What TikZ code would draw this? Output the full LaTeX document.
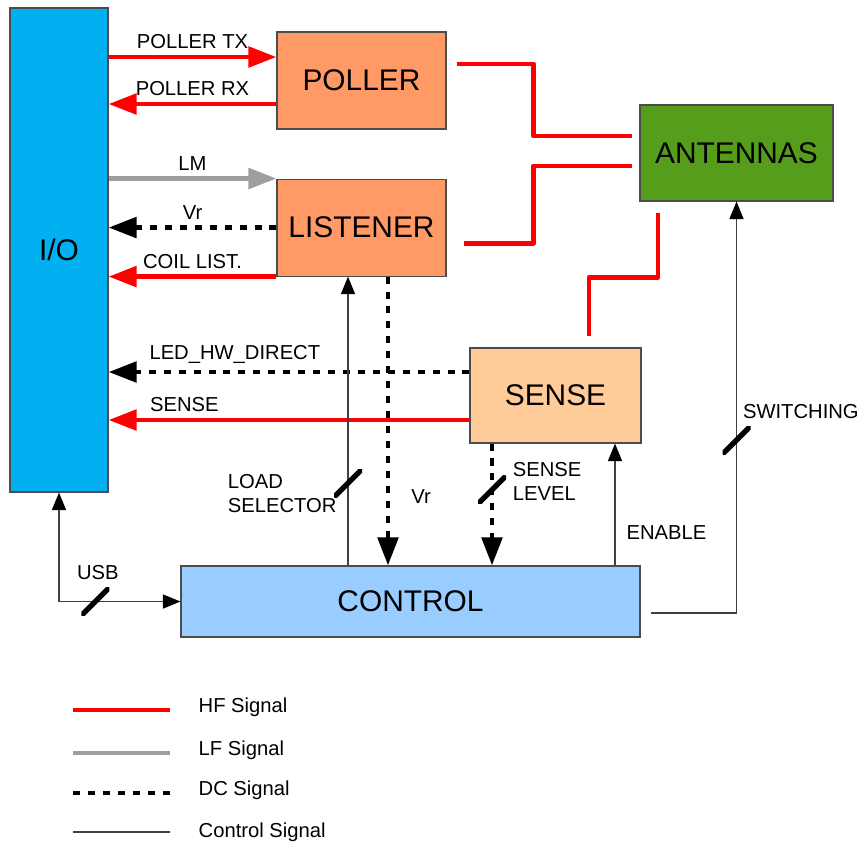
\documentclass[tikz,border=0pt]{standalone}
\usepackage{fontspec}
\setmainfont{Liberation Sans}
\usetikzlibrary{positioning,arrows.meta}
\usetikzlibrary{calc}

\definecolor{ioblue}{HTML}{00B0F0}
\definecolor{blockorange}{HTML}{FF9966}
\definecolor{antgreen}{HTML}{579D1C}
\definecolor{senseorange}{HTML}{FFCC99}
\definecolor{ctrlblue}{HTML}{99CCFF}

\begin{document}
\begin{tikzpicture}[
    % Blocks
    block/.style={
        draw=black!70,
        line width=0.6pt,
        inner sep=0pt,
        font=\fontsize{17}{20}\selectfont
    },
    % Signal lines
    hf/.style={draw=red, line width=2.8pt},
    lf/.style={draw=black!38, line width=2.8pt},
    dc/.style={draw=black, line width=2.8pt, dash pattern=on 4pt off 4.5pt},
    ctl/.style={draw=black!75, line width=0.8pt},
    % Arrow tips
    big tip/.style={-{Triangle[length=16pt,width=11.5pt]}},
    small tip/.style={-{Triangle[length=10pt,width=8pt,color=black]}},
    % Labels
    lbl/.style={font=\fontsize{11.5}{13.7}\selectfont},
    % Bus mark
    bus tick/.style={
        minimum size=0.56cm,
        inner sep=0pt,
        path picture={\draw[-, solid, draw=black, line width=3pt] (path picture bounding box.south west) -- (path picture bounding box.north east);}
    }
]

\useasboundingbox (0,0) rectangle (17.24,-16.96);

% Blocks
\node[block, fill=ioblue, minimum width=1.96cm, minimum height=9.68cm] (io) at (1.18,-5.0) {I/O};
\node[block, fill=blockorange, minimum width=3.38cm, minimum height=1.94cm] (poller) at (7.23,-1.61) {POLLER};
\node[block, fill=blockorange, minimum width=3.38cm, minimum height=1.94cm, below=0.98cm of poller] (listener) {LISTENER};
\node[block, fill=antgreen, minimum width=3.86cm, minimum height=1.92cm] (antennas) at (14.73,-3.06) {ANTENNAS};
\node[block, fill=senseorange, minimum width=3.42cm, minimum height=1.9cm] (sense) at (11.11,-7.91) {SENSE};
\node[block, fill=ctrlblue, minimum width=9.18cm, minimum height=1.42cm] (control) at (8.21,-12.03) {CONTROL};

% I/O links
\draw[hf, big tip] ([yshift=0.47cm]io.east |- poller.west) -- ([yshift=0.47cm]poller.west) node[lbl, midway, above] {POLLER TX};
\draw[hf, big tip] ([yshift=-0.47cm]poller.west) -- ([yshift=-0.47cm]io.east |- poller.west) node[lbl, midway, above] {POLLER RX};
\draw[lf, big tip] (io.east |- listener.north west) -- (listener.north west) node[lbl, midway, above] {LM};
\draw[dc, big tip] (listener.west) -- (io.east |- listener.west) node[lbl, midway, above] {Vr};
\draw[hf, big tip] (listener.south west) -- (io.east |- listener.south west) node[lbl, midway, above] {COIL LIST.};
\draw[dc, big tip] ([yshift=0.47cm]sense.west) -- ([yshift=0.47cm]io.east |- sense.west) node[lbl, pos=0.65, above] {LED\_HW\_DIRECT};
\draw[hf, big tip] ([yshift=-0.49cm]sense.west) -- ([yshift=-0.49cm]io.east |- sense.west) node[lbl, pos=0.79, above] {SENSE};

% Control links
\draw[ctl, small tip] ([xshift=-0.27cm]listener.south |- control.north) -- ([xshift=-0.27cm]listener.south)
    node[bus tick, pos=0.285] {}
    node[lbl, pos=0.25, left=0.1cm, align=left] {LOAD\\SELECTOR};
\draw[dc, big tip] ([xshift=0.53cm]listener.south) -- ([xshift=0.53cm]listener.south |- control.north)
    node[lbl, pos=0.76, right=0.3cm] {Vr};
\draw[dc, big tip] ([xshift=-1.27cm]sense.south) -- ([xshift=-1.27cm]sense.south |- control.north)
    node[bus tick, pos=0.38] {}
    node[lbl, pos=0.31, right=0.25cm, align=left] {SENSE\\LEVEL};
\draw[ctl, small tip] ([xshift=1.19cm]sense.south |- control.north) -- ([xshift=1.19cm]sense.south)
    node[lbl, pos=0.27, right=0.1cm] {ENABLE};
\draw[ctl, small tip] ([xshift=0.2cm, yshift=-0.23cm]control.east) -| (antennas.south)
    node[bus tick, pos=0.71] {}
    node[lbl, pos=0.745, anchor=west] {SWITCHING};
\draw[ctl, {Triangle[length=10pt,width=8pt,color=black]}-{Triangle[length=10pt,width=8pt,color=black]}] (io.south) |- (control.west)
    node[bus tick, pos=0.65] {}
    node[lbl, pos=0.66, above=0.3cm] {USB};

% Antenna links
\begin{scope}[line join=round]
    \draw[hf, shorten <=5.7pt, shorten >=4pt] ([yshift=0.33cm]poller.east) -- ++(1.74cm,0) |- ([yshift=0.34cm]antennas.west);
    \draw[hf, shorten <=9.7pt, shorten >=4.5pt] ([yshift=-0.31cm]listener.east) -- ++(1.74cm,0) |- ([yshift=-0.26cm]antennas.west);
    \draw[hf, shorten <=6.3pt, shorten >=6.8pt] ([xshift=0.67cm]sense.north) -- ++(0,1.4cm) -| ([xshift=-1.57cm]antennas.south);
\end{scope}

% Legend
\node[lbl, anchor=west] (hflabel) at (3.85,-14.14) {HF Signal};
\node[lbl, anchor=west] (lflabel) at (3.85,-15.0) {LF Signal};
\node[lbl, anchor=west] (dclabel) at (3.85,-15.8) {DC Signal};
\node[lbl, anchor=west] (ctllabel) at (3.85,-16.64) {Control Signal};
\draw[hf] ([xshift=-0.45cm, yshift=-0.06cm]hflabel.west) -- ++(-1.94,0);
\draw[lf] ([xshift=-0.45cm, yshift=-0.06cm]lflabel.west) -- ++(-1.94,0);
\draw[dc] ([xshift=-0.45cm, yshift=-0.06cm]dclabel.west) -- ++(-1.94,0);
\draw[ctl] ([xshift=-0.45cm]ctllabel.west) -- ++(-1.94,0);

\end{tikzpicture}
\end{document}
